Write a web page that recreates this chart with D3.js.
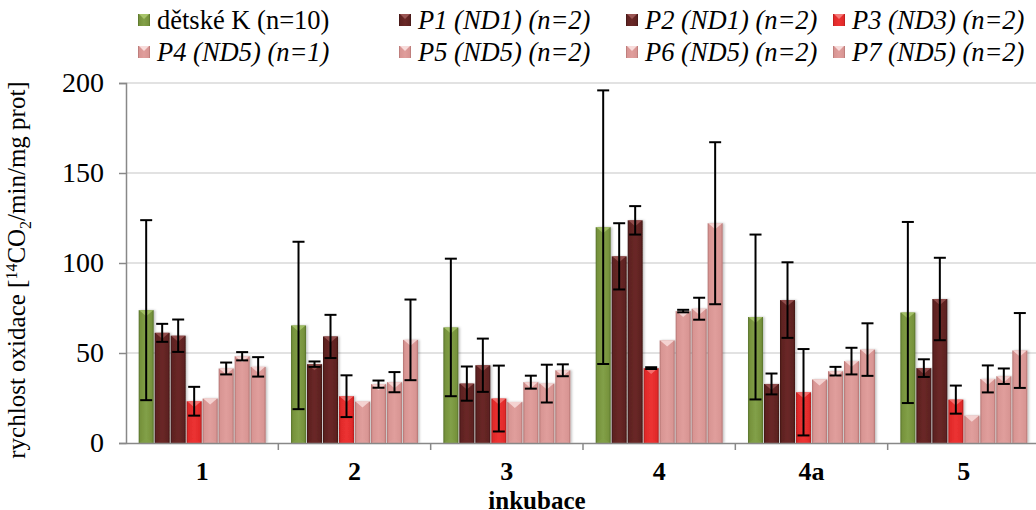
<!DOCTYPE html>
<html>
<head>
<meta charset="utf-8">
<script src="https://cdn.jsdelivr.net/npm/d3@7"></script>
<style>
  body { margin: 0; background: #fff; }
  svg { display: block; }
  svg text { font-family: 'Liberation Serif', Tinos, 'Times New Roman', Times, serif; }
</style>
</head>
<body>
<svg width="1036" height="510"></svg>
<script>
const categories = ["1", "2", "3", "4", "4a", "5"];
const seriesNames = ["dětské K (n=10)", "P1 (ND1) (n=2)", "P2 (ND1) (n=2)", "P3 (ND3) (n=2)",
  "P4 (ND5) (n=1)", "P5 (ND5) (n=2)", "P6 (ND5) (n=2)", "P7 (ND5) (n=2)"];
const kids = [73.8, 65.3, 64.2, 119.9, 70.0, 72.5];
const kidsErr = [50, 46.5, 38.2, 76, 45.8, 50.3];
const p1 = [61.2, 43.8, 33.0, 103.7, 32.8, 41.6];
const p1Err = [5, 1.5, 9.5, 18.4, 5.8, 4.9];
const p2 = [59.6, 59.2, 43.2, 123.7, 79.4, 80.0];
const p2Err = [9, 12, 14.8, 7.9, 21, 22.9];
const p3 = [23.2, 26.0, 24.7, 41.6, 28.2, 24.1];
const p3Err = [8, 11.6, 18.3, 0.5, 24, 7.8];
const p4 = [24.7, 23.0, 22.8, 57.0, 35.3, 15.2];
const p4Err = null; // n=1, no spread
const p5 = [41.4, 32.7, 33.8, 73.3, 39.9, 35.6];
const p5Err = [3.3, 2, 3.6, 0.7, 2.4, 7.5];
const p6 = [48.2, 33.8, 33.0, 74.6, 45.5, 37.1];
const p6Err = [2.3, 5.6, 10.5, 6.1, 7.4, 4.3];
const p7 = [42.3, 57.3, 40.4, 122.1, 51.9, 51.4];
const p7Err = [5.4, 22.4, 3.3, 45, 14.6, 20.8];
const yTicks = [0, 50, 100, 150, 200];

const seriesValues = [kids, p1, p2, p3, p4, p5, p6, p7];
const seriesErrors = [kidsErr, p1Err, p2Err, p3Err, p4Err, p5Err, p6Err, p7Err];

// fill colours: [edge, base, centre, top facet]
const palette = [
  ["#56702a", "#76923c", "#82a048", "#a7c46a"],
  ["#3f1615", "#5e2221", "#6a2827", "#9a5553"],
  ["#3f1615", "#5e2221", "#6a2827", "#9a5553"],
  ["#b01c1c", "#e12a2a", "#ec3232", "#f47a78"],
  ["#b27371", "#d89593", "#e09e9c", "#f8dcdb"],
  ["#b27371", "#d89593", "#e09e9c", "#f8dcdb"],
  ["#b27371", "#d89593", "#e09e9c", "#f8dcdb"],
  ["#b27371", "#d89593", "#e09e9c", "#f8dcdb"]
];

const svg = d3.select("svg");
const margin = { left: 126, top: 83, right: -4, bottom: 67 };
const width = +svg.attr("width");
const height = +svg.attr("height");
const innerWidth = width - margin.left - margin.right;
const innerHeight = height - margin.top - margin.bottom;

const defs = svg.append("defs");
palette.forEach((c, i) => {
  const grad = defs.append("linearGradient").attr("id", "bar" + i)
    .attr("x1", 0).attr("x2", 1).attr("y1", 0).attr("y2", 0);
  [[0, c[0]], [0.12, c[1]], [0.5, c[2]], [0.88, c[1]], [1, c[0]]].forEach(s =>
    grad.append("stop").attr("offset", s[0]).attr("stop-color", s[1]));
});
defs.append("filter").attr("id", "shadow").attr("x", -0.3).attr("width", 1.6)
  .append("feDropShadow").attr("dx", 1.5).attr("dy", 0).attr("stdDeviation", 1)
  .attr("flood-color", "#000").attr("flood-opacity", 0.25);

const g = svg.append("g").attr("transform", `translate(${margin.left},${margin.top})`);

const x0 = d3.scaleBand().domain(categories).range([0, innerWidth]).padding(0);
const gap = x0.bandwidth() * 0.08;
const x1 = d3.scaleBand().domain(d3.range(seriesNames.length)).range([gap, x0.bandwidth() - gap]).padding(0);
const y = d3.scaleLinear().domain([0, 200]).range([innerHeight, 0]);

// gridlines
g.append("g").selectAll("line").data(yTicks.slice(1)).join("line")
  .attr("x1", 0).attr("x2", innerWidth)
  .attr("y1", d => y(d)).attr("y2", d => y(d))
  .attr("stroke", "#d9d9d9").attr("stroke-width", 1.5);

// bars
const rows = [];
seriesValues.forEach((vals, s) => vals.forEach((v, c) => rows.push({
  s, cat: categories[c], v, err: seriesErrors[s] ? seriesErrors[s][c] : null
})));

const bars = g.append("g").selectAll("g.bar").data(rows).join("g").attr("class", "bar")
  .attr("transform", d => `translate(${x0(d.cat) + x1(d.s)},0)`);
const bw = x1.bandwidth();
bars.append("rect")
  .attr("x", 0.5).attr("width", bw - 1)
  .attr("y", d => y(d.v)).attr("height", d => y(0) - y(d.v))
  .attr("fill", d => `url(#bar${d.s})`)
  .attr("filter", "url(#shadow)");
bars.append("path")
  .attr("d", d => `M1,${y(d.v)}L${bw - 1},${y(d.v)}L${bw / 2},${y(d.v) + 6}Z`)
  .attr("fill", d => palette[d.s][3]).attr("opacity", 0.85);
bars.append("path")
  .attr("d", d => `M1,${y(0)}L${bw - 1},${y(0)}L${bw / 2},${y(0) - 5}Z`)
  .attr("fill", d => palette[d.s][2]).attr("opacity", 0.6);

// error bars
const eb = bars.filter(d => d.err != null).append("g")
  .attr("stroke", "#000").attr("stroke-width", 2);
eb.append("line").attr("x1", bw / 2).attr("x2", bw / 2)
  .attr("y1", d => y(d.v + d.err)).attr("y2", d => y(d.v - d.err));
eb.append("line").attr("x1", bw / 2 - 6).attr("x2", bw / 2 + 6)
  .attr("y1", d => y(d.v + d.err)).attr("y2", d => y(d.v + d.err));
eb.append("line").attr("x1", bw / 2 - 6).attr("x2", bw / 2 + 6)
  .attr("y1", d => y(d.v - d.err)).attr("y2", d => y(d.v - d.err));

// axes
const yAxisG = g.append("g").call(d3.axisLeft(y).tickValues(yTicks).tickSize(7).tickPadding(15));
yAxisG.attr("font-family", null);
yAxisG.selectAll("line, path").attr("stroke", "#888").attr("stroke-width", 1.5);
yAxisG.selectAll("text").style("font-size", "28px").attr("fill", "#000");

const xAxisG = g.append("g").attr("transform", `translate(0,${innerHeight})`)
  .call(d3.axisBottom(x0).tickSize(0).tickPadding(19));
xAxisG.attr("font-family", null);
xAxisG.select("path").attr("stroke", "#888").attr("stroke-width", 1.5);
xAxisG.selectAll("text").style("font-size", "26px").style("font-weight", "bold").attr("fill", "#000");
xAxisG.append("g").selectAll("line").data(categories.slice(1)).join("line")
  .attr("x1", d => x0(d)).attr("x2", d => x0(d)).attr("y1", 0).attr("y2", 7)
  .attr("stroke", "#888").attr("stroke-width", 1.5);

svg.append("text")
  .attr("x", 537).attr("y", 509)
  .attr("text-anchor", "middle").style("font-size", "25px").style("font-weight", "bold")
  .text("inkubace");

const yTitle = svg.append("text")
  .attr("transform", `translate(25,${margin.top + innerHeight / 2 + 7}) rotate(-90)`)
  .attr("text-anchor", "middle").style("font-size", "25px");
yTitle.append("tspan").text("rychlost oxidace [");
yTitle.append("tspan").attr("dy", -8).style("font-size", "16px").text("14");
yTitle.append("tspan").attr("dy", 8).text("CO");
yTitle.append("tspan").attr("dy", 6).style("font-size", "16px").text("2");
yTitle.append("tspan").attr("dy", -6).text("/min/mg prot]");

// legend
const legendX = [138, 399, 626, 833];
const legendY = [20, 52];
const legend = svg.append("g").selectAll("g").data(seriesNames).join("g")
  .attr("transform", (d, i) => `translate(${legendX[i % 4]},${legendY[Math.floor(i / 4)]})`);
legend.append("rect").attr("x", 0).attr("y", -6).attr("width", 12).attr("height", 12)
  .attr("fill", (d, i) => `url(#bar${i})`);
legend.append("path").attr("d", "M1,-6L11,-6L6,-1Z").attr("fill", (d, i) => palette[i][3]);
legend.append("text").attr("x", 19).attr("dy", "0.33em").style("font-size", "26.5px")
  .style("font-style", (d, i) => i === 0 ? "normal" : "italic")
  .text(d => d);
</script>
</body>
</html>
